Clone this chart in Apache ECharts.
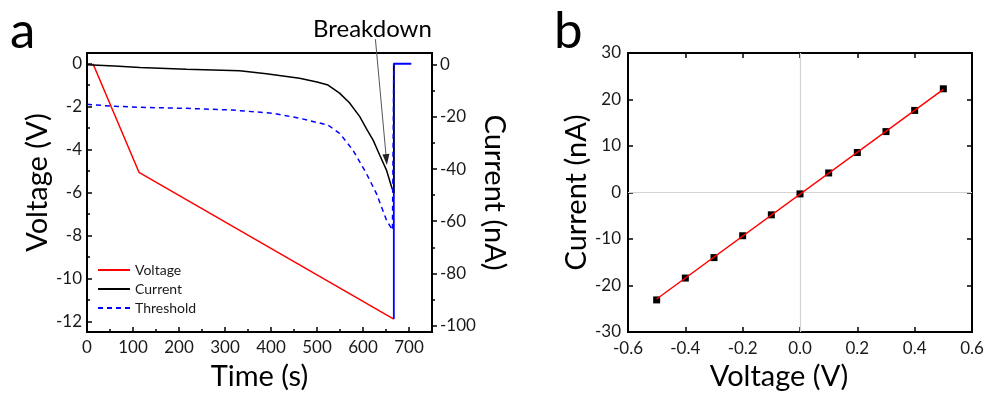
<!DOCTYPE html>
<html><head><meta charset="utf-8">
<script src="https://cdn.jsdelivr.net/npm/echarts@6/dist/echarts.min.js"></script>
<style>html,body{margin:0;padding:0;background:#fff}#c{width:987px;height:393px}</style>
</head><body><div id="c"></div>
<script>
// ---- Panel a data (time in s) ----
const voltageData = [[13,0],[113,-5.06],[667,-11.9]];                 // V, left axis
const currentData = [[0,0],[60,-0.5],[115,-1.1],[216,-1.7],[332,-2.3],[390,-3.5],[462,-5.2],[500,-6.6],[524,-7.8],[549,-10.9],[570,-14.5],[593,-19.9],[607,-24.4],[622,-28.9],[636,-34.5],[651,-40.4],[662,-46.8],[667,-49.3],[667,0]]; // nA, right axis
const thresholdData = [[0,-1.89],[50,-1.97],[115,-2.03],[216,-2.08],[317,-2.16],[404,-2.31],[462,-2.54],[524,-2.86],[549,-3.24],[578,-4.02],[607,-5.1],[629,-6.04],[651,-7.28],[664,-7.75],[667,-7.75],[667,0]]; // V, left axis
const resetData = [[667,-11.9],[667,0],[705,0]];                        // V, left axis
const voltageTicks = [-12,-10,-8,-6,-4,-2,0];
const voltageMinor = [-11,-9,-7,-5,-3,-1];
const currentTicks = [-100,-80,-60,-40,-20,0];
const currentMinor = [-90,-70,-50,-30,-10];
const breakdownArrow = [[627,9.8],[652,-38.5]]; // [time, current] start -> tip
// ---- Panel b data ----
const ivVoltage = [-0.5,-0.4,-0.3,-0.2,-0.1,0,0.1,0.2,0.3,0.4,0.5];
const ivCurrent = [-23.1,-18.4,-14.0,-9.3,-4.8,-0.3,4.2,8.6,13.1,17.65,22.3];
const ivFit = [[-0.5,-22.9],[0.5,22.2]];

const FONT = 'Lato';
const chart = echarts.init(document.getElementById('c'), null, {renderer:'canvas'});
const lab = {fontFamily:FONT, fontSize:17, color:'#1a1a1a'};
const nameStyle = {fontFamily:FONT, fontSize:29, color:'#000'};
const noLine = {show:false, onZero:false};
const tickStyle = {color:'#000', width:1.5};

const option = {
  animation:false,
  backgroundColor:'#fff',
  grid:[
    {left:87, top:53, width:345, height:279, show:true, borderColor:'#000', borderWidth:2,
     backgroundColor:'transparent', outerBoundsMode:'none', containLabel:false},
    {left:628, top:53, width:344, height:279, show:true, borderColor:'#000', borderWidth:2,
     backgroundColor:'transparent', outerBoundsMode:'none', containLabel:false}
  ],
  legend:{
    data:['Voltage','Current','Threshold'], orient:'vertical', left:97, top:263, padding:0,
    itemWidth:32, itemHeight:10, itemGap:5,
    itemStyle:{opacity:0},
    textStyle:{fontFamily:FONT, fontSize:14, color:'#1a1a1a'}
  },
  xAxis:[
    {gridIndex:0, type:'value', min:0, max:750, interval:100,
     axisLine:noLine, splitLine:{show:false},
     axisTick:{inside:true, length:5, lineStyle:tickStyle},
     minorTick:{show:true, splitNumber:2, length:3, lineStyle:tickStyle},
     axisLabel:{...lab, margin:7, showMaxLabel:false},
     name:'Time (s)', nameLocation:'middle', nameGap:30, nameTextStyle:nameStyle},
    {gridIndex:1, type:'value', min:-0.6, max:0.6, interval:0.2,
     axisLine:noLine, splitLine:{show:false},
     axisTick:{inside:true, length:5, lineStyle:tickStyle},
     axisLabel:{...lab, margin:8, formatter:v=>v.toFixed(1)},
     name:'Voltage (V)', nameLocation:'middle', nameGap:30,
     nameTextStyle:{...nameStyle, padding:[0,42,0,0]}},
    {gridIndex:1, type:'value', position:'top', min:-0.6, max:0.6, interval:0.2,
     axisLine:noLine, splitLine:{show:false},
     axisTick:{inside:true, length:5, lineStyle:tickStyle},
     axisLabel:{show:false}}
  ],
  yAxis:[
    {gridIndex:0, type:'value', position:'left', min:-12.5, max:0.5,
     axisLine:noLine, splitLine:{show:false},
     axisTick:{inside:true, length:5, customValues:voltageTicks, lineStyle:tickStyle},
     axisLabel:{...lab, margin:5, customValues:voltageTicks},
     name:'Voltage (V)', nameLocation:'middle', nameGap:28,
     nameTextStyle:{...nameStyle, padding:[0,0,0,20]}},
    {gridIndex:0, type:'value', position:'left', min:-12.5, max:0.5,
     axisLine:noLine, splitLine:{show:false},
     axisTick:{inside:true, length:3, customValues:voltageMinor, lineStyle:tickStyle},
     axisLabel:{show:false}},
    {gridIndex:0, type:'value', position:'right', min:-102.5, max:4.5,
     axisLine:noLine, splitLine:{show:false},
     axisTick:{inside:false, length:5, customValues:currentTicks, lineStyle:tickStyle},
     axisLabel:{...lab, margin:8, customValues:currentTicks},
     name:'Current (nA)', nameLocation:'middle', nameGap:29, nameRotate:-90, nameTextStyle:nameStyle},
    {gridIndex:0, type:'value', position:'right', min:-102.5, max:4.5,
     axisLine:noLine, splitLine:{show:false},
     axisTick:{inside:false, length:3, customValues:currentMinor, lineStyle:tickStyle},
     axisLabel:{show:false}},
    {gridIndex:1, type:'value', position:'left', min:-30, max:30, interval:10,
     axisLine:noLine, splitLine:{show:false},
     axisTick:{inside:true, length:5, lineStyle:tickStyle},
     axisLabel:{...lab, margin:7},
     name:'Current (nA)', nameLocation:'middle', nameGap:28, nameTextStyle:nameStyle},
    {gridIndex:1, type:'value', position:'right', min:-30, max:30, interval:10,
     axisLine:noLine, splitLine:{show:false},
     axisTick:{inside:true, length:5, lineStyle:tickStyle},
     axisLabel:{show:false}}
  ],
  series:[
    {name:'Voltage', type:'line', xAxisIndex:0, yAxisIndex:0, data:voltageData, symbol:'none',
     lineStyle:{color:'#ff0000', width:1.5}, itemStyle:{color:'#ff0000'}},
    {name:'reset', type:'line', xAxisIndex:0, yAxisIndex:0, data:resetData, symbol:'none',
     lineStyle:{color:'#0000ff', width:1.8}, itemStyle:{color:'#0000ff'}},
    {name:'Current', type:'line', xAxisIndex:0, yAxisIndex:2, data:currentData, symbol:'none',
     lineStyle:{color:'#000', width:1.5}, itemStyle:{color:'#000'}},
    {name:'Threshold', type:'line', xAxisIndex:0, yAxisIndex:0, data:thresholdData, symbol:'none',
     lineStyle:{color:'#0000ff', width:1.5, type:[5,4]}, itemStyle:{color:'#0000ff'}},
    {name:'zero', type:'line', xAxisIndex:1, yAxisIndex:4, data:[], z:1,
     markLine:{silent:true, symbol:'none', label:{show:false}, z:1,
       lineStyle:{color:'#d4d4d4', width:1.2, type:'solid'},
       data:[{xAxis:0},{yAxis:0}]}},
    {name:'IV', type:'scatter', xAxisIndex:1, yAxisIndex:4, z:3,
     data:ivVoltage.map((v,i)=>[v, ivCurrent[i]]), symbol:'rect', symbolSize:7,
     itemStyle:{color:'#000', opacity:1}},
    {name:'Fit', type:'line', xAxisIndex:1, yAxisIndex:4, data:ivFit, symbol:'none', z:4,
     lineStyle:{color:'#ff0000', width:1.5}}
  ]
};
chart.setOption(option);

// breakdown annotation placed from data coordinates
const p0 = chart.convertToPixel({xAxisIndex:0, yAxisIndex:2}, breakdownArrow[0]);
const p1 = chart.convertToPixel({xAxisIndex:0, yAxisIndex:2}, breakdownArrow[1]);
const ang = Math.atan2(p1[1]-p0[1], p1[0]-p0[0]);
const L = 11, W = 3.5;
const b0 = [p1[0]-L*Math.cos(ang), p1[1]-L*Math.sin(ang)];
const nx = -Math.sin(ang), ny = Math.cos(ang);
chart.setOption({graphic:[
  {type:'text', left:10, top:6, style:{text:'a', font:'51px '+FONT, fill:'#000'}},
  {type:'text', left:554, top:6, style:{text:'b', font:'51px '+FONT, fill:'#000'}},
  {type:'line', shape:{x1:p0[0], y1:p0[1], x2:b0[0], y2:b0[1]}, style:{stroke:'#555', lineWidth:1}, z:100},
  {type:'polygon', shape:{points:[[p1[0],p1[1]],[b0[0]+nx*W,b0[1]+ny*W],[b0[0]-nx*W,b0[1]-ny*W]]}, style:{fill:'#222'}, z:100},
  {type:'text', x:p0[0]-3, y:p0[1]+2, style:{text:'Breakdown', font:'24px '+FONT, fill:'#000', textAlign:'center', textVerticalAlign:'bottom'}, z:100}
]});
</script></body></html>
